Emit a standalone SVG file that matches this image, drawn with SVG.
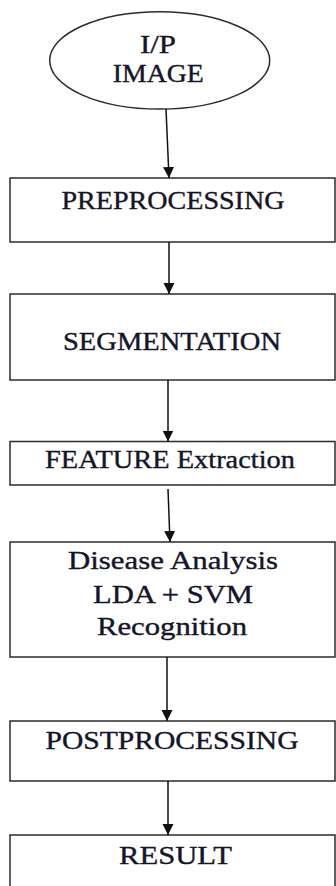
<svg xmlns="http://www.w3.org/2000/svg" width="336" height="886" viewBox="0 0 336 886">
<style>
  .shape { fill: #ffffff; stroke: #2b2b2b; stroke-width: 1.5; }
  .label { font-family: "Liberation Serif", "Times New Roman", serif; font-size: 24.5px; fill: #15152a; stroke: #15152a; stroke-width: 0.35; text-anchor: middle; }
  .conn { stroke: #111111; stroke-width: 1.5; fill: none; marker-end: url(#arrow); }
</style>
<defs>
  <marker id="arrow" markerUnits="userSpaceOnUse" markerWidth="12" markerHeight="12" refX="11" refY="5.5" orient="auto">
    <path d="M0,0 L11,5.5 L0,11 Z" fill="#111111"/>
  </marker>
</defs>
<rect width="336" height="886" fill="#ffffff"/>
<g id="input">
  <ellipse class="shape" cx="159.7" cy="60.4" rx="110" ry="48.7"/>
  <text class="label" x="158" y="53" textLength="36" lengthAdjust="spacingAndGlyphs">I/P</text>
  <text class="label" x="158.3" y="82" textLength="91" lengthAdjust="spacingAndGlyphs">IMAGE</text>
</g>
<g id="preprocessing">
  <rect class="shape" x="10" y="178" width="325" height="64"/>
  <text class="label" x="173" y="209" textLength="223" lengthAdjust="spacingAndGlyphs">PREPROCESSING</text>
</g>
<g id="segmentation">
  <rect class="shape" x="10" y="294" width="325" height="86"/>
  <text class="label" x="172" y="350" textLength="218" lengthAdjust="spacingAndGlyphs">SEGMENTATION</text>
</g>
<g id="feature">
  <rect class="shape" x="10" y="441.5" width="325" height="43.5"/>
  <text class="label" x="170" y="468" textLength="250" lengthAdjust="spacingAndGlyphs">FEATURE Extraction</text>
</g>
<g id="disease">
  <rect class="shape" x="10" y="542" width="325" height="115"/>
  <text class="label" x="173" y="569" textLength="210" lengthAdjust="spacingAndGlyphs">Disease Analysis</text>
  <text class="label" x="173" y="603" textLength="160" lengthAdjust="spacingAndGlyphs">LDA + SVM</text>
  <text class="label" x="172" y="635" textLength="150" lengthAdjust="spacingAndGlyphs">Recognition</text>
</g>
<g id="postprocessing">
  <rect class="shape" x="10" y="721" width="325" height="60"/>
  <text class="label" x="172" y="749" textLength="253" lengthAdjust="spacingAndGlyphs">POSTPROCESSING</text>
</g>
<g id="result">
  <rect class="shape" x="10" y="835" width="325" height="60"/>
  <text class="label" x="175.5" y="864" textLength="113" lengthAdjust="spacingAndGlyphs">RESULT</text>
</g>
<g id="connectors">
  <line class="conn" x1="166" y1="109" x2="169" y2="178"/>
  <line class="conn" x1="169" y1="242" x2="169" y2="294"/>
  <line class="conn" x1="168" y1="380" x2="168" y2="441.5"/>
  <line class="conn" x1="168" y1="489" x2="170" y2="542"/>
  <line class="conn" x1="167" y1="657" x2="167" y2="721"/>
  <line class="conn" x1="168" y1="781" x2="168" y2="835"/>
</g>
</svg>
